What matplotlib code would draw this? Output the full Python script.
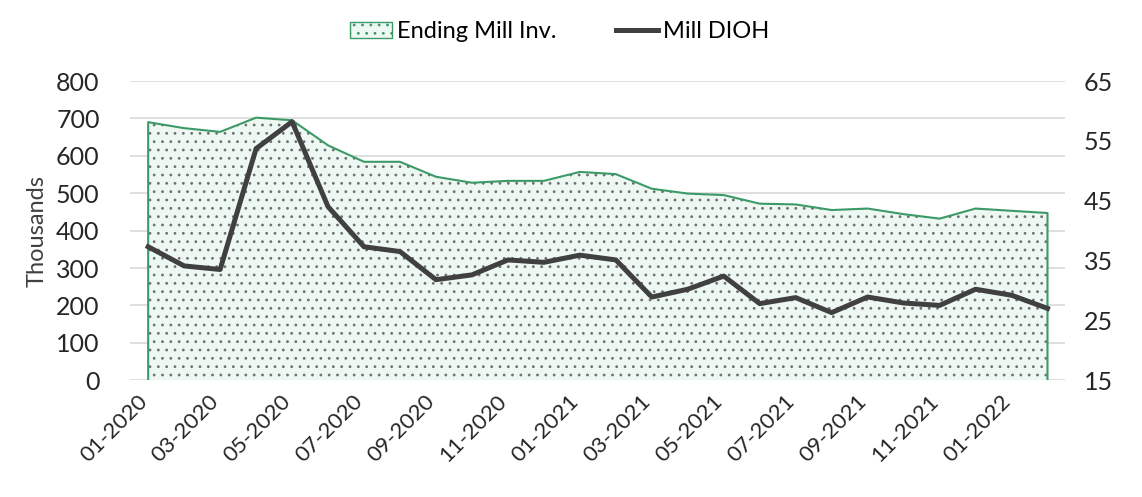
import matplotlib.pyplot as plt
import matplotlib.patches as mpatches
import matplotlib.lines as mlines
import matplotlib.transforms as mtrans
import numpy as np

plt.rcParams['font.family'] = ['Lato', 'DejaVu Sans']
plt.rcParams['hatch.color'] = '#707070'
plt.rcParams['hatch.linewidth'] = 0.8

# monthly data 01-2020 .. 02-2022
months = ['01-2020', '02-2020', '03-2020', '04-2020', '05-2020', '06-2020',
          '07-2020', '08-2020', '09-2020', '10-2020', '11-2020', '12-2020',
          '01-2021', '02-2021', '03-2021', '04-2021', '05-2021', '06-2021',
          '07-2021', '08-2021', '09-2021', '10-2021', '11-2021', '12-2021',
          '01-2022', '02-2022']
mill_inv = [690, 674, 664, 702, 695, 628, 584, 584, 544, 528, 533, 533,
            557, 551, 512, 499, 495, 472, 470, 455, 459, 444, 432, 459,
            453, 447]
mill_dioh = [37.3, 34.1, 33.5, 53.7, 58.2, 44.0, 37.3, 36.5, 31.8, 32.6, 35.1, 34.7,
             35.9, 35.1, 28.9, 30.2, 32.4, 27.8, 28.8, 26.3, 28.9, 27.9, 27.5, 30.2,
             29.2, 27.0]

x = np.arange(len(months))
green = '#3c9a68'
fill = '#eef8f2'
grey = '#404040'

fig = plt.figure(figsize=(11.42, 4.97), dpi=100)
ax = fig.add_axes([0.114, 0.235, 0.819, 0.602])
ax2 = ax.twinx()

ax.fill_between(x, 0, mill_inv, facecolor=fill, edgecolor='#707070', hatch='..', linewidth=0, zorder=2)
# green outline of the area
ax.plot(np.r_[x[0], x, x[-1]], np.r_[0, mill_inv, 0], color=green, lw=1.5, zorder=3)

ax2.plot(x, mill_dioh, color=grey, lw=3.6, solid_joinstyle='round', zorder=4)

ax.set_xlim(-0.5, len(months) - 0.5)
ax.set_ylim(0, 800)
ax.set_yticks(np.arange(0, 801, 100))
ax2.set_ylim(15, 65)
ax2.set_yticks(np.arange(15, 66, 10))
ax.grid(axis='y', color='#d9d9d9', lw=1.2, zorder=0)
ax.set_axisbelow(True)

ax.set_xticks(x[::2])
ax.set_xticklabels(months[::2], rotation=45, ha='right', rotation_mode='anchor')
for a in (ax, ax2):
    for s in a.spines.values():
        s.set_visible(False)
    a.tick_params(length=0, labelsize=18, colors='#262626')
ax.tick_params(axis='x', labelsize=16, pad=8)
ax.tick_params(axis='y', pad=22)
ax2.tick_params(axis='y', pad=13)
shift = mtrans.ScaledTranslation(-8 / 72, 0, fig.dpi_scale_trans)
for lab in ax.get_xticklabels():
    lab.set_transform(lab.get_transform() + shift)
ax.set_ylabel('Thousands', fontsize=17, color='#404040', labelpad=6)

h1 = mpatches.Patch(facecolor=fill, edgecolor=green, hatch='..', lw=1)
h2 = mlines.Line2D([], [], color=grey, lw=3.6)
fig.legend([h1, h2], ['Ending Mill Inv.', 'Mill DIOH'], loc='upper center',
           bbox_to_anchor=(0.49, 1.0), ncol=2, frameon=False, fontsize=17,
           handlelength=1.8, handletextpad=0.2, columnspacing=2.5)

fig.savefig('out.png', dpi=100)
